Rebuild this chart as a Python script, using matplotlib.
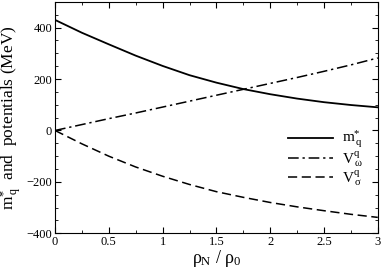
import numpy as np
import matplotlib
matplotlib.use("Agg")
import matplotlib.pyplot as plt
from matplotlib.ticker import MultipleLocator

rho = [0.0, 0.25, 0.5, 0.75, 1.0, 1.25, 1.5, 1.75, 2.0, 2.25, 2.5, 2.75, 3.0]
m_q = [430, 380, 335, 291, 251, 215, 186, 161, 141, 124, 110, 99, 90]
v_omega = [0, 23, 46, 68, 91, 114, 137, 160, 183, 206, 230, 255, 282]
v_sigma = [0, -52, -100, -142, -178, -210, -238, -260, -280, -297, -312, -326, -338]

plt.rcParams['font.family'] = ['Liberation Serif', 'DejaVu Serif']
plt.rcParams['mathtext.fontset'] = 'custom'
plt.rcParams['mathtext.rm'] = 'Liberation Serif'
plt.rcParams['mathtext.it'] = 'Liberation Serif'

fig = plt.figure(figsize=(3.82, 2.71), dpi=100)
ax = fig.add_axes([0.144, 0.139, 0.845, 0.854])

ax.plot(rho, m_q, color='black', lw=1.3, ls='-', label=r'$\mathrm{m}^{*}_{\,\mathrm{q}}$')
ax.plot(rho, v_omega, color='black', lw=1.1, ls=(0, (7, 2.5, 1.5, 2.5)),
        label=r'$\mathrm{V}^{\mathrm{q}}_{\,\omega}$')
ax.plot(rho, v_sigma, color='black', lw=1.1, ls=(0, (6, 3)),
        label=r'$\mathrm{V}^{\mathrm{q}}_{\,\sigma}$')

ax.set_xlim(0, 3)
ax.set_ylim(-400, 500)
ax.xaxis.set_major_locator(MultipleLocator(0.5))
ax.xaxis.set_minor_locator(MultipleLocator(0.25))
ax.yaxis.set_major_locator(MultipleLocator(200))
ax.yaxis.set_minor_locator(MultipleLocator(50))
ax.set_xticks([0, 0.5, 1, 1.5, 2, 2.5, 3])
ax.set_xticklabels(['0', '0.5', '1', '1.5', '2', '2.5', '3'])
ax.tick_params(which='both', direction='in', top=True, right=True, labelsize=9, pad=2)
ax.tick_params(which='major', length=4)
ax.tick_params(which='minor', length=2)

ax.set_xlabel(r'$\rho_{\mathrm{N}}\ /\ \rho_{0}$', fontsize=13,
              family=['DejaVu Sans'], labelpad=0)
ax.set_ylabel(r'$\mathrm{m}^{*}_{\,\mathrm{q}}$  and  potentials (MeV)', fontsize=12.5, labelpad=2)

leg = ax.legend(loc='lower left', bbox_to_anchor=(0.68, 0.137), frameon=False,
                fontsize=11, handlelength=2.9, labelspacing=0.0, handletextpad=0.6)

fig.savefig('out.png', dpi=100)
